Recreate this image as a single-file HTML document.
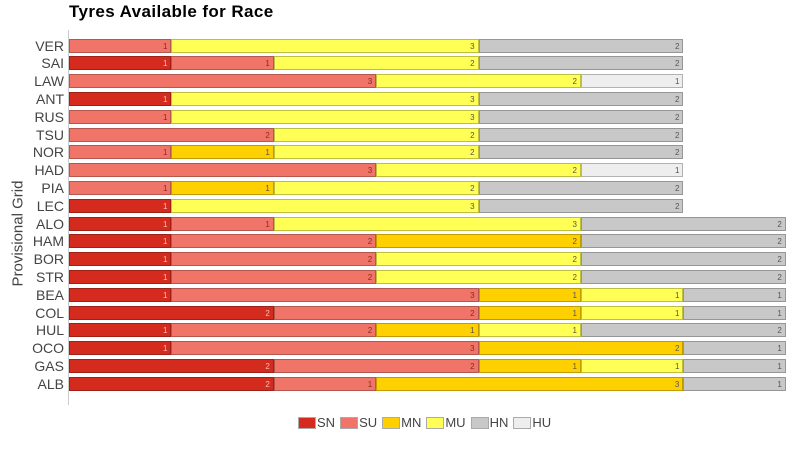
<!DOCTYPE html><html><head><style>
body{margin:0;width:800px;height:450px;background:#fff;font-family:"Liberation Sans",sans-serif;position:relative;overflow:hidden}
.t{position:absolute;left:69px;top:2px;font-size:17px;font-weight:bold;letter-spacing:0.4px}
.seg{position:absolute;height:14px;box-sizing:border-box;border:1px solid rgba(0,0,0,0.25);font-size:8px;text-align:right;padding-right:3px;line-height:13px;color:#444}
.lab{position:absolute;left:0;width:64px;text-align:right;font-size:14px;color:#444;line-height:16px}
</style></head><body>
<div class="t">Tyres Available for Race</div>
<div style="position:absolute;left:68px;top:30px;width:1px;height:375px;background:#ccc"></div>
<div style="position:absolute;left:-42px;top:225px;transform:rotate(-90deg);font-size:15px;color:#444;width:120px;text-align:center">Provisional Grid</div>
<div id="c"></div>
<div style="position:absolute;top:415px;left:298px;font-size:13px;color:#444;display:flex;gap:4px;align-items:center" id="lg"></div>
<script>
const C={SN:'#d52b1e',SU:'#f07468',MN:'#ffd000',MU:'#ffff55',HN:'#c8c8c8',HU:'#eeeeee'};
const D=[["VER","SU1 MU3 HN2"],["SAI","SN1 SU1 MU2 HN2"],["LAW","SU3 MU2 HU1"],["ANT","SN1 MU3 HN2"],["RUS","SU1 MU3 HN2"],["TSU","SU2 MU2 HN2"],["NOR","SU1 MN1 MU2 HN2"],["HAD","SU3 MU2 HU1"],["PIA","SU1 MN1 MU2 HN2"],["LEC","SN1 MU3 HN2"],["ALO","SN1 SU1 MU3 HN2"],["HAM","SN1 SU2 MN2 HN2"],["BOR","SN1 SU2 MU2 HN2"],["STR","SN1 SU2 MU2 HN2"],["BEA","SN1 SU3 MN1 MU1 HN1"],["COL","SN2 SU2 MN1 MU1 HN1"],["HUL","SN1 SU2 MN1 MU1 HN2"],["OCO","SN1 SU3 MN2 HN1"],["GAS","SN2 SU2 MN1 MU1 HN1"],["ALB","SN2 SU1 MN3 HN1"]];
let h='';const U=102.4;
D.forEach((r,i)=>{const y=38.5+i*17.8;h+=`<div class="lab" style="top:${y-1}px">${r[0]}</div>`;let x=69;
r[1].split(' ').forEach(s=>{const k=s.slice(0,2),n=+s[2],w=n*U;h+=`<div class="seg" style="left:${x}px;top:${y}px;width:${w}px;background:${C[k]};color:${k=='SN'?'#f3c0b8':k=='SU'?'#8a2a20':'#555'}">${n}</div>`;x+=w;});});
document.getElementById('c').innerHTML=h;
document.getElementById('lg').innerHTML=Object.keys(C).map(k=>`<span style="display:inline-block;width:18px;height:12px;background:${C[k]};border:1px solid #aaa;box-sizing:border-box"></span><span style="margin-right:1px;margin-left:-3px">${k}</span>`).join('');
</script></body></html>
